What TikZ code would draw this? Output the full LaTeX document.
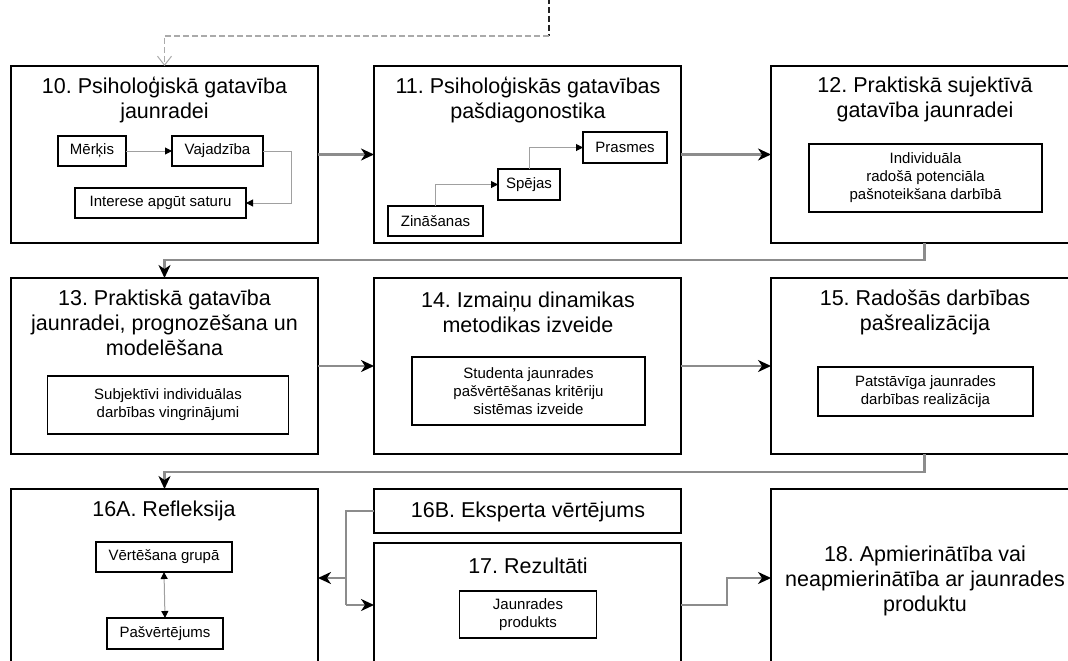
\documentclass[tikz,border=0pt]{standalone}
\usepackage{fontspec}
\setmainfont{Liberation Sans}
\usetikzlibrary{arrows.meta}
\definecolor{lineg}{HTML}{8C8C8C}
\definecolor{lineg2}{HTML}{A0A0A0}
\definecolor{dashg}{HTML}{AAAAAA}
\definecolor{dashd}{HTML}{222222}
\tikzset{
 mainbox/.style={draw=black, line width=1.3pt, rectangle, inner sep=0pt, outer sep=0pt, anchor=north west, minimum width=307pt},
 subbox/.style={draw=black, line width=1.1pt, rectangle, inner sep=0pt, outer sep=0pt, align=center, font=\fontsize{15}{18}\selectfont},
 titletext/.style={align=center, inner sep=0pt, font=\fontsize{21.5}{25}\selectfont},
 flow/.style={draw=lineg, line width=2.2pt, -{Stealth[length=13pt,width=12pt,inset=4pt,color=black]}},
 flowline/.style={draw=lineg, line width=2.2pt},
 thinarrow/.style={draw=lineg2, line width=1pt, -{Triangle[length=7pt,width=7pt,color=black]}},
 thinboth/.style={draw=lineg2, line width=1pt, {Triangle[length=7pt,width=7pt,color=black]}-{Triangle[length=7pt,width=7pt,color=black]}},
 feedback/.style={draw=dashg, line width=1.6pt, dash pattern=on 6pt off 3pt, -{Straight Barb[length=9pt,width=14pt,line width=1pt]}},
 fbdark/.style={draw=dashd, line width=1.3pt, dash pattern=on 6pt off 3pt},
}
\begin{document}
\frenchspacing
\begin{tikzpicture}[x=1pt,y=-1pt]
\path[use as bounding box] (0,0) rectangle (1068,661);
\clip (0,0) rectangle (1068,661);

% ---------- row 1
\node[mainbox, minimum height=177pt] (b10) at (11,66) {};
\node[mainbox, minimum height=177pt] (b11) at (374,66) {};
\node[mainbox, minimum height=177pt] (b12) at (771,66) {};
\node[titletext] (t10) at (164.5,100) {10. Psiholoģiskā gatavība\\jaunradei};
\node[titletext] (t11) at (528,100) {11. Psiholoģiskās gatavības\\pašdiagonostika};
\node[titletext] (t12) at (925,99) {12. Praktiskā sujektīvā\\gatavība jaunradei};

\node[subbox, minimum width=68pt, minimum height=30pt] (merk) at (92,151) {Mērķis};
\node[subbox, minimum width=91pt, minimum height=30pt] (vaj) at (217.5,151) {Vajadzība};
\node[subbox, minimum width=171pt, minimum height=30pt] (int) at (160.5,203) {Interese apgūt saturu};
\draw[thinarrow] (merk) -- (vaj);
\draw[thinarrow] (vaj.east) -- ++(28,0) |- (int.east);

\node[subbox, minimum width=84pt, minimum height=31pt] (pra) at (625,147.5) {Prasmes};
\node[subbox, minimum width=62pt, minimum height=31pt] (spe) at (529,184.5) {Spējas};
\node[subbox, minimum width=95pt, minimum height=30pt] (zin) at (435.5,221) {Zināšanas};
\draw[thinarrow] (zin.north) |- (spe.west);
\draw[thinarrow] (spe.north) |- (pra.west);

\node[subbox, minimum width=233pt, minimum height=68pt] (in12) at (925.5,178) {Individuāla\\radošā potenciāla\\pašnoteikšana darbībā};

% ---------- row 2
\node[mainbox, minimum height=176pt] (b13) at (11,278) {};
\node[mainbox, minimum height=176pt] (b14) at (374,278) {};
\node[mainbox, minimum height=176pt] (b15) at (771,278) {};
\node[titletext] (t13) at (164.5,323) {13. Praktiskā gatavība\\jaunradei, prognozēšana un\\modelēšana};
\node[titletext] (t14) at (528,312) {14. Izmaiņu dinamikas\\metodikas izveide};
\node[titletext] (t15) at (925,312) {15. Radošās darbības\\pašrealizācija};

\node[subbox, minimum width=241pt, minimum height=58pt] (in13) at (168,405) {Subjektīvi individuālas\\darbības vingrinājumi};
\node[subbox, minimum width=233pt, minimum height=68pt] (in14) at (528.5,391) {Studenta jaunrades\\pašvērtēšanas kritēriju\\sistēmas izveide};
\node[subbox, minimum width=215pt, minimum height=49pt] (in15) at (925.5,391.5) {Patstāvīga jaunrades\\darbības realizācija};

% ---------- row 3
\node[mainbox, minimum height=200pt] (b16A) at (11,489) {};
\node[mainbox, minimum height=44pt] (b16B) at (374,489) {};
\node[mainbox, minimum height=150pt] (b17) at (374,543) {};
\node[mainbox, minimum height=200pt] (b18) at (771,489) {};
\node[titletext] (t16A) at (164,511) {16A. Refleksija};
\node[titletext] (t16B) at (528,512) {16B. Eksperta vērtējums};
\node[titletext] (t17) at (528,566) {17. Rezultāti};
\node[titletext] (t18) at (925,581) {18. Apmierinātība vai\\neapmierinātība ar jaunrades\\produktu};

\node[subbox, minimum width=136pt, minimum height=30pt] (vert) at (164,557) {Vērtēšana grupā};
\node[subbox, minimum width=116pt, minimum height=31pt] (pasv) at (165,633.5) {Pašvērtējums};
\draw[thinboth] (vert.south) -- (pasv.north);
\node[subbox, minimum width=137pt, minimum height=47pt] (in17) at (528,614.5) {Jaunrades\\produkts};

% ---------- main connectors
\draw[flow] (b10.east) -- (b11.west);
\draw[flow] (b11.east) -- (b12.west);
\draw[flow] (b12.south) -- ++(0,17) -| (b13.north);
\draw[flow] (b13.east) -- (b14.west);
\draw[flow] (b14.east) -- (b15.west);
\draw[flow] (b15.south) -- ++(0,18) -| (b16A.north);

\coordinate (ja) at (346,578);
\coordinate (jb) at (346,605);
\coordinate (jc) at (727,605);
\draw[flowline] (b16B.west) -| (jb);
\draw[flow] (ja) -- (b16A.east |- ja);
\draw[flow] (jb) -- (b17.west |- jb);
\draw[flow] (b17.east |- jc) -- (jc) |- (b18.west |- ja);

% ---------- feedback (dashed)
\coordinate (fbtop) at (549,-2);
\coordinate (fbturn) at (549,36);
\draw[fbdark] (fbtop) -- (fbturn);
\draw[feedback] (fbturn) -| (b10.north);
\end{tikzpicture}
\end{document}
